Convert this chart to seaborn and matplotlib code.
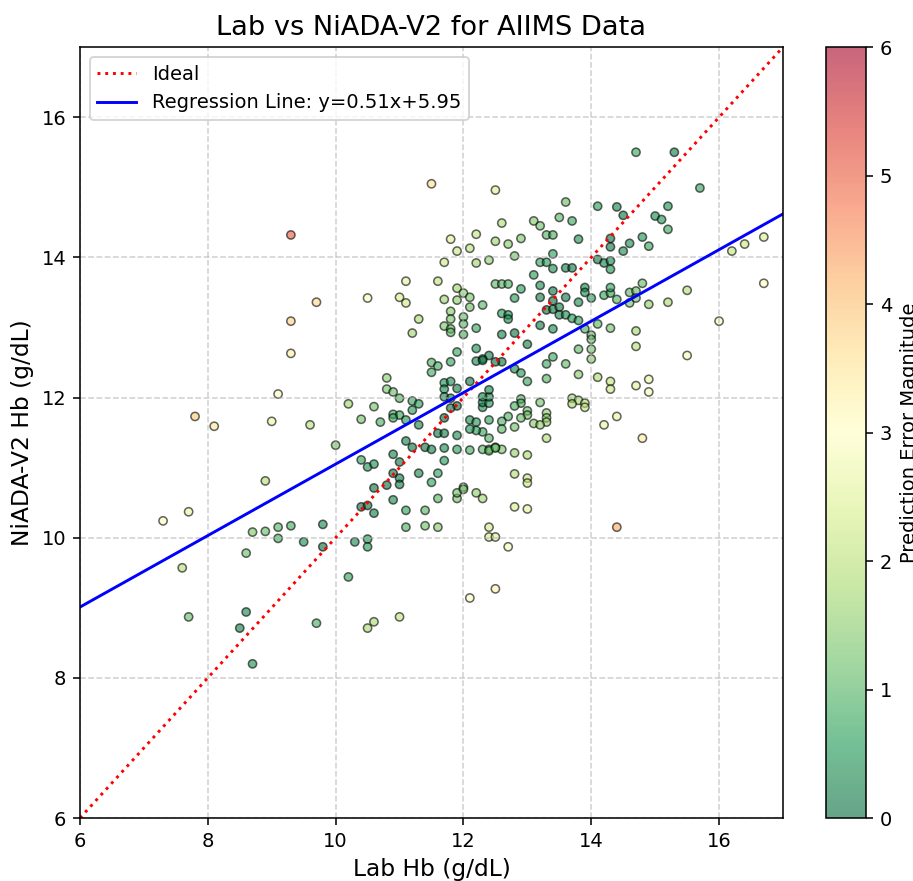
import matplotlib
matplotlib.use("Agg")
import matplotlib.pyplot as plt
from matplotlib.colors import Normalize
import seaborn as sns
import pandas as pd

# valeurs (Lab Hb, NiADA-V2 Hb)
lab_hb = [
    11.5, 9.3, 11.1, 10.5, 11.0, 11.1, 9.7, 11.3, 9.3, 11.2,
    9.3, 11.5, 11.5, 10.8, 10.8, 10.9, 11.0, 11.2, 11.3, 11.2,
    9.1, 10.2, 10.6, 10.9, 11.0, 10.9, 10.4, 10.7, 11.1, 11.3,
    7.8, 8.1, 9.0, 9.6, 10.0, 11.1, 11.2, 11.4, 10.9, 10.4,
    10.5, 10.6, 11.0, 10.9, 11.3, 11.0, 8.9, 10.8, 10.6, 11.5,
    7.3, 7.7, 8.7, 8.9, 9.1, 9.3, 9.1, 9.8, 9.5, 9.8,
    8.6, 7.6, 10.3, 10.5, 10.5, 11.0, 10.4, 10.5, 10.6, 10.9,
    11.1, 11.4, 11.6, 11.1, 11.4, 11.6, 11.9, 11.9, 12.0, 12.0,
    12.2, 12.3, 12.4, 12.4, 12.5, 12.1, 12.5, 10.2, 7.7, 8.6,
    8.5, 9.7, 10.5, 10.6, 11.0, 8.7,
    12.5, 12.6, 12.2, 11.8, 12.5, 12.7, 12.9, 11.9, 12.1, 12.8,
    11.7, 12.2, 12.4, 11.6, 12.5, 12.6, 12.7, 12.9, 11.9, 12.0,
    12.1, 11.7, 11.9, 12.8, 12.1, 12.3, 11.8, 12.6, 12.7, 12.7,
    12.0, 11.8, 11.7, 11.8, 11.8, 12.0, 12.2, 12.0, 12.6, 12.8,
    13.0, 12.2, 11.9, 12.4, 12.3, 12.6, 12.5, 11.6, 11.8,
    14.7, 15.3, 15.7, 13.6, 14.1, 14.4, 14.5, 15.2, 15.0, 15.1,
    15.2, 13.5, 13.7, 13.1, 13.2, 13.3, 13.4, 13.8, 14.3, 14.3,
    14.6, 14.8, 14.9, 14.5, 13.4, 13.2, 13.3, 13.4, 13.6, 13.7,
    14.1, 14.2, 14.3, 14.3, 13.1, 13.2, 13.4, 13.2, 13.4, 13.6,
    13.9, 13.9, 13.8, 14.0, 14.2, 14.3, 14.3, 14.4, 14.6, 14.7,
    14.8, 14.6, 14.7, 14.9, 15.2, 15.5, 16.0, 13.3, 13.4, 13.5,
    13.5, 13.6, 13.7, 13.8, 13.2, 13.4, 13.9, 14.0, 14.0, 14.1,
    14.3, 14.7, 14.7, 15.5, 13.8, 14.0, 13.4, 14.0, 13.3, 13.6,
    16.2, 16.4, 16.7, 16.7, 14.9, 14.9, 14.8, 14.7, 14.3, 14.3,
    14.4, 14.2, 14.1, 13.8, 13.3, 13.7, 13.8, 13.9, 13.9, 13.7,
    13.2, 12.9, 12.9, 12.8, 13.0, 13.0, 13.3, 13.3, 13.3, 13.1,
    13.2, 13.3, 12.7, 12.8, 12.9, 12.6, 12.6, 12.8, 13.0, 12.8,
    13.0, 13.0, 12.6, 12.5, 12.4, 12.3, 12.4, 12.3, 12.2, 12.1,
    12.1, 12.2, 12.4, 12.3, 12.3, 12.4, 12.4, 12.3, 12.4, 12.1,
    11.9, 11.9, 11.8, 11.7, 11.7, 11.7, 11.8, 11.8, 11.7, 11.6,
    11.7, 11.7, 11.7, 11.5, 11.9, 11.9, 11.6, 12.2, 12.3, 12.8,
    12.9, 13.0, 12.7, 12.8, 13.0, 12.1, 12.4, 12.5, 14.4,
]
niada_hb = [
    15.05, 14.32, 13.66, 13.42, 13.43, 13.35, 13.36, 13.12, 13.09, 12.92,
    12.63, 12.50, 12.36, 12.28, 12.12, 12.08, 11.99, 11.95, 11.91, 11.82,
    12.05, 11.91, 11.87, 11.76, 11.75, 11.71, 11.69, 11.65, 11.68, 11.61,
    11.73, 11.59, 11.66, 11.61, 11.32, 11.38, 11.29, 11.29, 11.19, 11.11,
    11.01, 11.05, 11.08, 10.92, 10.92, 10.85, 10.81, 10.75, 10.71, 10.79,
    10.24, 10.37, 10.08, 10.09, 10.15, 10.17, 9.99, 10.19, 9.94, 9.87,
    9.78, 9.57, 9.94, 9.98, 9.87, 10.76, 10.44, 10.46, 10.35, 10.54,
    10.39, 10.39, 10.56, 10.15, 10.17, 10.15, 10.56, 10.64, 10.72, 10.69,
    10.64, 10.56, 10.15, 10.01, 10.01, 9.14, 9.27, 9.44, 8.87, 8.94,
    8.71, 8.78, 8.71, 8.80, 8.87, 8.20,
    14.96, 14.49, 14.33, 14.26, 14.23, 14.19, 14.27, 14.09, 14.13, 14.02,
    13.93, 13.92, 13.96, 13.66, 13.62, 13.62, 13.62, 13.55, 13.56, 13.49,
    13.43, 13.40, 13.39, 13.42, 13.29, 13.32, 13.23, 13.20, 13.18, 13.12,
    13.15, 13.12, 13.02, 12.98, 12.93, 13.05, 12.99, 12.90, 12.90, 12.92,
    12.76, 12.70, 12.65, 12.60, 12.55, 12.51, 12.51, 12.45, 12.51,
    15.50, 15.50, 14.99, 14.79, 14.73, 14.72, 14.60, 14.73, 14.59, 14.54,
    14.40, 14.57, 14.52, 14.52, 14.45, 14.32, 14.32, 14.26, 14.27, 14.15,
    14.20, 14.29, 14.16, 14.09, 14.05, 13.93, 13.93, 13.84, 13.85, 13.85,
    13.97, 13.92, 13.95, 13.83, 13.75, 13.60, 13.52, 13.43, 13.38, 13.43,
    13.57, 13.50, 13.36, 13.42, 13.46, 13.49, 13.57, 13.40, 13.50, 13.52,
    13.63, 13.35, 13.42, 13.33, 13.36, 13.53, 13.09, 13.25, 13.26, 13.29,
    13.18, 13.18, 13.13, 13.10, 13.03, 12.98, 12.98, 12.89, 12.83, 13.05,
    12.99, 12.95, 12.73, 12.60, 12.69, 12.69, 12.58, 12.55, 12.48, 12.48,
    14.09, 14.19, 14.29, 13.63, 12.26, 12.08, 11.42, 12.17, 12.23, 12.12,
    11.73, 11.61, 12.29, 12.33, 12.27, 11.99, 11.96, 11.92, 11.86, 11.91,
    11.93, 11.98, 11.92, 11.88, 11.81, 11.75, 11.78, 11.71, 11.65, 11.63,
    11.61, 11.42, 11.73, 11.58, 11.71, 11.66, 11.55, 11.21, 11.18, 10.91,
    10.85, 10.78, 11.26, 11.29, 11.26, 11.26, 11.42, 11.51, 11.53, 11.55,
    11.68, 11.65, 11.68, 11.86, 11.93, 11.92, 12.01, 12.01, 12.11, 12.23,
    12.13, 11.88, 11.85, 12.21, 12.12, 12.01, 12.23, 11.99, 11.71, 11.49,
    11.49, 11.28, 11.10, 11.26, 11.46, 11.26, 10.92, 12.52, 12.53, 12.41,
    12.35, 12.23, 9.87, 10.44, 10.41, 11.25, 11.24, 11.28, 10.15,
]

# droite de regression affichee dans la legende
pente = 0.51
ordonnee = 5.95

df = pd.DataFrame({"lab": lab_hb, "niada": niada_hb})
df["erreur"] = (df["niada"] - df["lab"]).abs()

fig = plt.figure(figsize=(913 / 140, 881 / 140), dpi=140)
ax = fig.add_axes([0.0876, 0.0715, 0.770, 0.875])
cax = fig.add_axes([0.9047, 0.0715, 0.0438, 0.875])

sns.scatterplot(data=df, x="lab", y="niada", hue="erreur", palette="RdYlGn_r",
                hue_norm=(0, 6), alpha=0.6, edgecolor="black", linewidth=0.8,
                s=18, legend=False, ax=ax)

ax.plot([6, 17], [6, 17], "r:", lw=1.5, label="Ideal")
xs = [6, 17]
ax.plot(xs, [pente * x + ordonnee for x in xs], color="blue", lw=1.5,
        label=f"Regression Line: y={pente:.2f}x+{ordonnee:.2f}")

ax.set_xlim(6, 17)
ax.set_ylim(6, 17)
ax.set_xticks([6, 8, 10, 12, 14, 16])
ax.set_yticks([6, 8, 10, 12, 14, 16])
ax.grid(True, linestyle="--", alpha=0.6)
ax.set_title("Lab vs NiADA-V2 for AIIMS Data", fontsize=14)
ax.set_xlabel("Lab Hb (g/dL)", fontsize=12)
ax.set_ylabel("NiADA-V2 Hb (g/dL)", fontsize=12)
ax.legend(loc="upper left", fontsize=10)

# barre de couleur
sm = plt.cm.ScalarMappable(norm=Normalize(0, 6), cmap=plt.get_cmap("RdYlGn_r"))
cbar = fig.colorbar(sm, cax=cax)
cbar.solids.set_alpha(0.6)
cbar.set_label("Prediction Error Magnitude", fontsize=10)

fig.savefig("out.png", dpi=140)
